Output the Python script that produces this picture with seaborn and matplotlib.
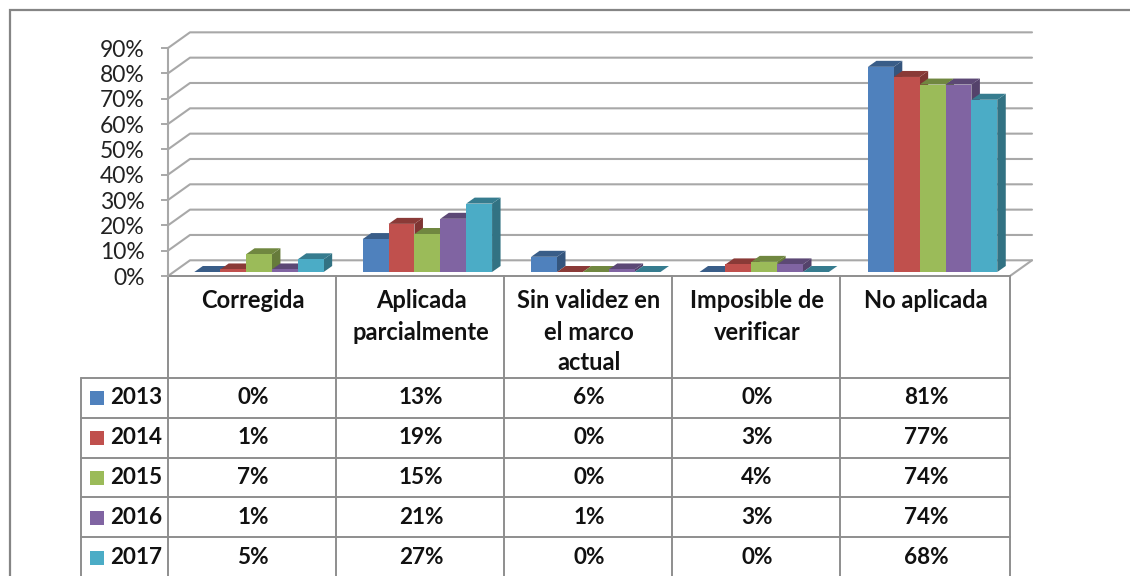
import matplotlib
matplotlib.use("Agg")
import matplotlib.pyplot as plt
from matplotlib.colors import to_rgb
from matplotlib.patches import Polygon, Rectangle
from matplotlib.ticker import PercentFormatter
import pandas as pd
import seaborn as sns

categories = ["Corregida", "Aplicada\nparcialmente", "Sin validez en\nel marco\nactual",
              "Imposible de\nverificar", "No aplicada"]
years = ["2013", "2014", "2015", "2016", "2017"]
v2013 = [0, 13, 6, 0, 81]
v2014 = [1, 19, 0, 3, 77]
v2015 = [7, 15, 0, 4, 74]
v2016 = [1, 21, 1, 3, 74]
v2017 = [5, 27, 0, 0, 68]
series = [v2013, v2014, v2015, v2016, v2017]
colors = ["#4F81BD", "#C0504D", "#9BBB59", "#8064A2", "#4BACC6"]
ticks = list(range(0, 100, 10))

W, H = 1130, 576
GRID = "#a8a8a8"
LINE = "#8e8e8e"
TXT = "#111111"
sns.set_theme(style="white")
plt.rcParams["font.family"] = ["Lato", "DejaVu Sans"]

df = pd.DataFrame(
    [{"cat": c, "year": y, "val": s[i]} for y, s in zip(years, series) for i, c in enumerate(categories)]
)

fig = plt.figure(figsize=(W / 100, H / 100), dpi=100, facecolor="white")


def axes_px(x0, ytop, x1, ybot, **kw):
    return fig.add_axes([x0 / W, 1 - ybot / H, (x1 - x0) / W, (ybot - ytop) / H], **kw)


# pixel overlay: frame, back wall, table
ov = axes_px(0, 0, W, H)
ov.set_xlim(0, W)
ov.set_ylim(H, 0)
ov.axis("off")

ov.plot([9.5, 9.5, W], [H, 9.5, 9.5], color="#858585", lw=1.6, solid_joinstyle="miter")

fx0, fx1, fy0, step = 168, 1010, 276, 25.33
dx, dy = 22, 15.7
for i, t in enumerate(ticks):
    y = fy0 - i * step
    ov.plot([fx0, fx0 + dx, fx1 + dx], [y, y - dy, y - dy], color=GRID, lw=1.5, zorder=1)
ov.plot([fx1, fx1 + dx], [fy0, fy0 - dy], color=GRID, lw=1.5, zorder=1)

# table grid
rows_y = [378, 417.7, 458, 497.3, 537.3]
cols_x = [168, 336, 504, 672, 840, 1010]
for y in rows_y:
    ov.plot([80.5, 1010], [y, y], color=LINE, lw=1.4, zorder=2)
ov.plot([168, 1010], [276, 276], color=LINE, lw=1.4, zorder=2)
for x in cols_x:
    ov.plot([x, x], [276, H], color=LINE, lw=1.4, zorder=2)
ov.plot([80.5, 80.5], [378, H], color=LINE, lw=1.4, zorder=2)

# table text
centers = [(a + b) / 2 + 1 for a, b in zip(cols_x[:-1], cols_x[1:])]
for cx, c in zip(centers, categories):
    for j, part in enumerate(c.split("\n")):
        ov.text(cx, 301 + j * 31, part, ha="center", va="center", fontsize=17, fontweight="bold", color=TXT)
row_cy = [397.5, 437.5, 477.5, 517.5, 557.5]
for cy, y, s, col in zip(row_cy, years, series, colors):
    ov.add_patch(Rectangle((89.5, cy - 7), 14.5, 14.5, facecolor=col, edgecolor="none", zorder=3))
    ov.text(110.5, cy, y, ha="left", va="center", fontsize=16.2, fontweight="bold", color=TXT)
    for cx, v in zip(centers, s):
        ov.text(cx, cy, f"{v}%", ha="center", va="center", fontsize=16.2, fontweight="bold", color=TXT)

# value axis on the front edge
ya = axes_px(fx0, fy0 - 9 * step, fx1, fy0)
ya.patch.set_alpha(0)
ya.set_ylim(0, 90)
ya.set_xticks([])
ya.set_yticks(ticks)
ya.yaxis.set_major_formatter(PercentFormatter(decimals=0))
ya.tick_params(axis="y", length=5, width=1.4, color=GRID, pad=12, labelsize=16.5, labelcolor="#222222", left=True)
for name, sp in ya.spines.items():
    sp.set_visible(name == "left")
sp = ya.spines["left"]
sp.set_color(GRID)
sp.set_linewidth(1.5)

# bars
base = 272
ax = axes_px(174.8, base - 90 * 2.533, 1016.8, base)
ax.patch.set_alpha(0)
sns.barplot(data=df, x="cat", y="val", hue="year", hue_order=years, order=categories,
            palette=colors, saturation=1, width=0.768, gap=0, legend=False, linewidth=0, ax=ax)
ax.set_xlim(-0.5, 4.5)
ax.set_ylim(0, 90)
ax.axis("off")

ddx = 8.5 / 168.4
ddy = 6 / 2.533
bars = sorted([p for p in ax.patches], key=lambda p: p.get_x())
for p in bars:
    p.set_zorder(5)
    p.set_linewidth(0)
    x, w, h = p.get_x(), p.get_width(), p.get_height()
    rgb = to_rgb(p.get_facecolor()[:3])
    dark = tuple(c * 0.72 for c in rgb)
    darker = tuple(c * 0.66 for c in rgb)
    ax.add_patch(Polygon([(x + w, 0), (x + w + ddx, ddy), (x + w + ddx, h + ddy), (x + w, h)],
                         facecolor=darker, edgecolor="none", zorder=3, clip_on=False))
    ax.add_patch(Polygon([(x, h), (x + ddx, h + ddy), (x + w + ddx, h + ddy), (x + w, h)],
                         facecolor=dark, edgecolor="none", zorder=3, clip_on=False))

fig.savefig("out.png", dpi=100)
